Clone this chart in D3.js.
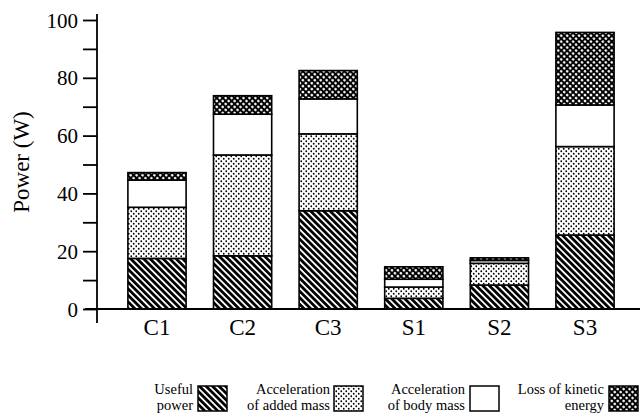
<!DOCTYPE html>
<html>
<head>
<meta charset="utf-8">
<script src="https://cdn.jsdelivr.net/npm/d3@7"></script>
<style>
  html, body { margin: 0; padding: 0; background: #fff; }
  svg { display: block; }
  svg text { font-family: "Liberation Serif", "Times New Roman", serif !important; fill: #000; }
</style>
</head>
<body>
<svg id="chart" width="643" height="417"></svg>
<script>
// ---- data ----
const categories = ["C1", "C2", "C3", "S1", "S2", "S3"];
const usefulPower = [17.5, 18.4, 34.0, 3.7, 8.3, 25.6];
const addedMass   = [17.7, 34.9, 26.6, 3.9, 7.5, 30.6];
const bodyMass    = [9.4, 14.1, 12.1, 2.7, 1.0, 14.4];
const kineticLoss = [2.6, 6.4, 9.8, 4.3, 0.9, 25.1];
const seriesKeys  = ["useful", "added", "body", "kinetic"];
const legendLabels = [["Useful", "power"], ["Acceleration", "of added mass"], ["Acceleration", "of body mass"], ["Loss of kinetic", "energy"]];
const yTicks = [0, 20, 40, 60, 80, 100];
const yMinorTicks = [10, 30, 50, 70, 90];
const yLabel = "Power (W)";

const rows = categories.map((c, i) => ({
  cat: c, useful: usefulPower[i], added: addedMass[i], body: bodyMass[i], kinetic: kineticLoss[i]
}));

const svg = d3.select("#chart");
const SERIF = '"Liberation Serif", "Times New Roman", serif';

// ---- patterns ----
const defs = svg.append("defs");
const hatch = defs.append("pattern").attr("id", "p-useful")
  .attr("patternUnits", "userSpaceOnUse").attr("width", 4.6).attr("height", 10)
  .attr("patternTransform", "rotate(-45)");
hatch.append("rect").attr("width", 4.6).attr("height", 10).attr("fill", "#fff");
hatch.append("rect").attr("width", 2.8).attr("height", 10).attr("fill", "#000");

const dots = defs.append("pattern").attr("id", "p-added")
  .attr("patternUnits", "userSpaceOnUse").attr("width", 5).attr("height", 5);
dots.append("rect").attr("width", 5).attr("height", 5).attr("fill", "#fff");
dots.append("circle").attr("cx", 1.25).attr("cy", 1.25).attr("r", 0.9).attr("fill", "#000");
dots.append("circle").attr("cx", 3.75).attr("cy", 3.75).attr("r", 0.9).attr("fill", "#000");

const cross = defs.append("pattern").attr("id", "p-kinetic")
  .attr("patternUnits", "userSpaceOnUse").attr("width", 4.2).attr("height", 4.2)
  .attr("patternTransform", "rotate(45)");
cross.append("rect").attr("width", 4.2).attr("height", 4.2).attr("fill", "#000");
cross.append("circle").attr("cx", 2.1).attr("cy", 2.1).attr("r", 1.35).attr("fill", "#fff");

const fills = { useful: "url(#p-useful)", added: "url(#p-added)", body: "#fff", kinetic: "url(#p-kinetic)" };

// ---- scales ----
const x = d3.scaleBand().domain(categories).range([114.2, 627.8]).paddingInner(0.32).paddingOuter(0.16);
const y = d3.scaleLinear().domain([0, 100]).range([309, 20]);

// ---- bars ----
const stack = d3.stack().keys(seriesKeys)(rows);
const layers = svg.append("g").selectAll("g").data(stack).join("g")
  .attr("fill", d => fills[d.key]);
layers.selectAll("rect").data(d => d).join("rect")
  .attr("x", d => x(d.data.cat))
  .attr("width", x.bandwidth())
  .attr("y", d => y(d[1]))
  .attr("height", d => y(d[0]) - y(d[1]))
  .attr("stroke", "#000").attr("stroke-width", 1.6);

// ---- axes ----
const ax = svg.append("g").attr("stroke", "#000").attr("stroke-width", 1.8);
ax.append("line").attr("x1", 97).attr("x2", 97).attr("y1", 14).attr("y2", 323);
ax.append("line").attr("x1", 85).attr("x2", 640).attr("y1", y(0)).attr("y2", y(0));

const yAxis = d3.axisLeft(y).tickValues(yTicks).tickSize(14).tickPadding(5).tickFormat(d3.format("d"));
const gy = svg.append("g").attr("transform", "translate(97,0)").call(yAxis)
  .attr("font-family", SERIF).attr("font-size", 21);
gy.select(".domain").remove();
gy.selectAll(".tick line").attr("stroke", "#000").attr("stroke-width", 1.8);
gy.selectAll(".tick text").style("font-family", SERIF).style("font-size", "21px").attr("fill", "#000").attr("dy", "0.34em");

const yMinor = d3.axisLeft(y).tickValues(yMinorTicks).tickSize(14).tickFormat("");
const gym = svg.append("g").attr("transform", "translate(97,0)").call(yMinor);
gym.select(".domain").remove();
gym.selectAll(".tick line").attr("stroke", "#000").attr("stroke-width", 1.8);

const xAxis = d3.axisBottom(x).tickSize(0).tickPadding(10);
const gx = svg.append("g").attr("transform", `translate(0,${y(0)})`).call(xAxis)
  .attr("font-family", SERIF).attr("font-size", 23);
gx.select(".domain").remove();
gx.selectAll(".tick text").style("font-family", SERIF).style("font-size", "23px").attr("fill", "#000").attr("dy", "0.71em");

svg.append("text").attr("transform", "translate(21,162) rotate(-90)")
  .attr("text-anchor", "middle").attr("dominant-baseline", "central")
  .style("font-family", SERIF).style("font-size", "23px").text(yLabel);

// ---- legend ----
const legendTextRight = [193, 330, 465, 604];
const legendSwatchX = [198, 334, 470, 609];
const lg = svg.append("g");
seriesKeys.forEach((k, i) => {
  const g = lg.append("g");
  legendLabels[i].forEach((line, j) => {
    g.append("text").attr("x", legendTextRight[i]).attr("y", 394 + j * 16.3)
      .attr("text-anchor", "end").style("font-family", SERIF).style("font-size", "14.5px").text(line);
  });
  g.append("rect").attr("x", legendSwatchX[i]).attr("y", 386).attr("width", 29).attr("height", 25)
    .attr("fill", fills[k]).attr("stroke", "#000").attr("stroke-width", 1.5);
});
</script>
</body>
</html>
